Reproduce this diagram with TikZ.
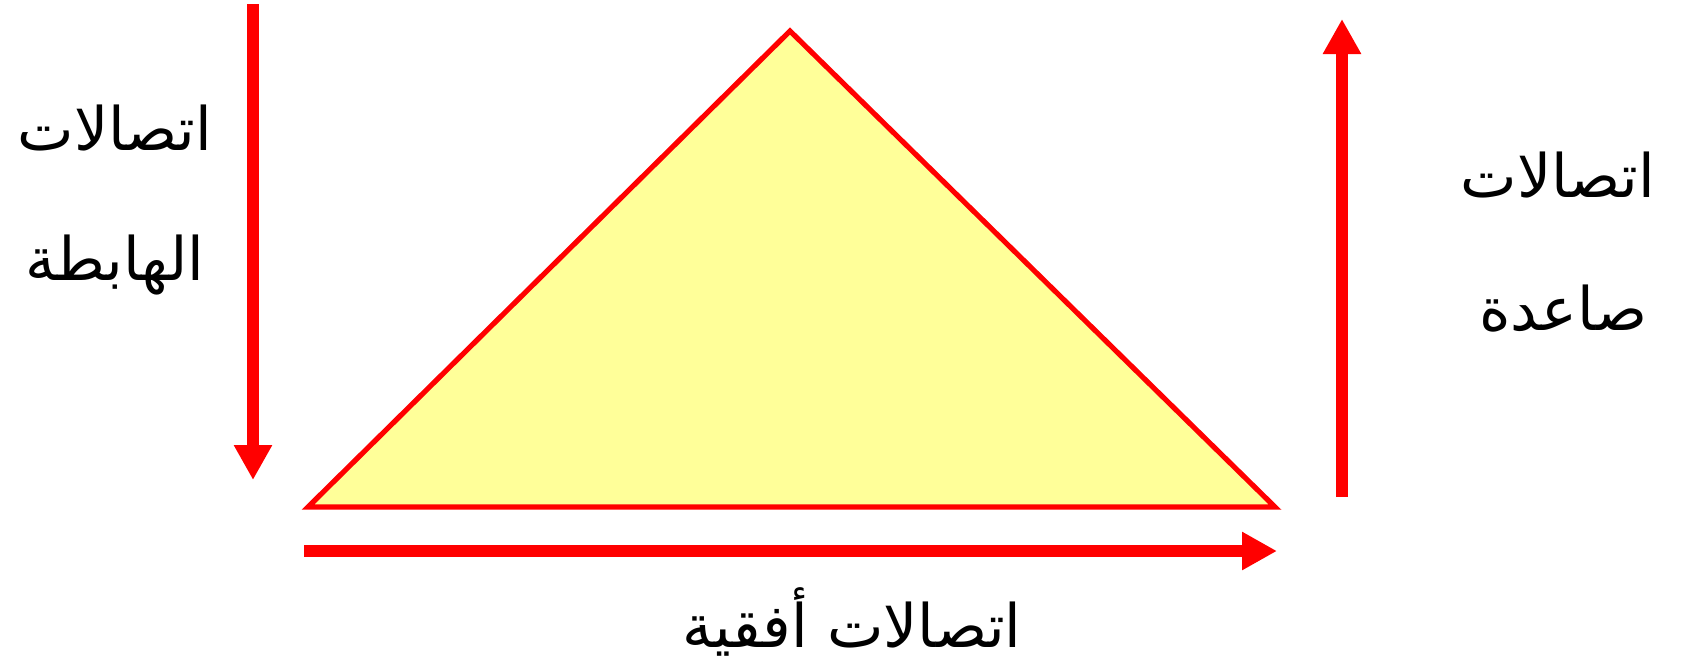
\documentclass[tikz,border=0pt]{standalone}
\usepackage{fontspec}
\newfontfamily\arabicfont[Script=Arabic]{DejaVu Sans}
\TeXXeTstate=1
\usetikzlibrary{arrows.meta}
\definecolor{arrowred}{HTML}{FF0000}
\definecolor{paleyellow}{HTML}{FFFF99}
\tikzset{
  flowarrow/.style={draw=arrowred, line width=6pt, -{Triangle[length=17.5pt,width=18pt]}},
  arlabel/.style={font=\arabicfont\fontsize{30}{36}\selectfont, anchor=base, inner sep=0pt},
}
\begin{document}
\begin{tikzpicture}[x=0.5pt,y=-0.5pt]
  \useasboundingbox (0,0) rectangle (1683,666);

  % pyramid
  \coordinate (apex) at (790,31);
  \coordinate (baseL) at (308,507);
  \coordinate (baseR) at (1275,507);
  \filldraw[fill=paleyellow, draw=arrowred, line width=2.6pt] (apex) -- (baseR) -- (baseL) -- cycle;

  % arrows
  \coordinate (downS) at (253,4);
  \coordinate (downE) at (253,480);
  \coordinate (upS) at (1342,497);
  \coordinate (upE) at (1342,19);
  \coordinate (sideS) at (304,551);
  \coordinate (sideE) at (1277,551);
  \draw[flowarrow] (downS) -- (downE);
  \draw[flowarrow] (upS) -- (upE);
  \draw[flowarrow] (sideS) -- (sideE);

  % labels
  \node[arlabel] (down1) at (115,150) {\beginR اتصالات\endR};
  \node[arlabel] (down2) at (115,280) {\beginR الهابطة\endR};
  \node[arlabel] (up1) at (1558,197) {\beginR اتصالات\endR};
  \node[arlabel] (up2) at (1563,330) {\beginR صاعدة\endR};
  \node[arlabel] (side) at (852,647) {\beginR اتصالات أفقية\endR};
\end{tikzpicture}
\end{document}
